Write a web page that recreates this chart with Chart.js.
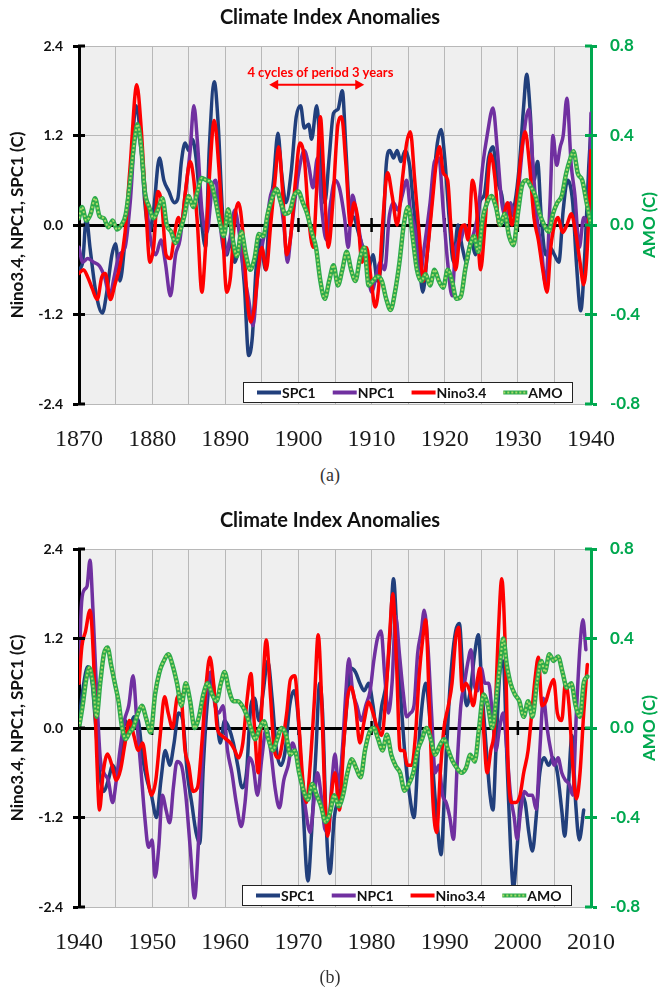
<!DOCTYPE html>
<html><head><meta charset="utf-8">
<script src="https://cdn.jsdelivr.net/npm/chart.js@4.4.1/dist/chart.umd.min.js"></script>
<style>
html,body{margin:0;padding:0;background:#fff;width:660px;height:990px;overflow:hidden;}
.wrap{position:absolute;left:0;width:660px;height:465px;}
#wa{top:0}#wb{top:503px}
.cap{position:absolute;left:0;width:660px;text-align:center;font-family:"Liberation Serif","DejaVu Serif",serif;font-size:18px;color:#333;}
</style></head><body>
<div class="wrap" id="wa"><canvas id="ca" width="660" height="465"></canvas></div>
<div class="cap" style="top:465px">(a)</div>
<div class="wrap" id="wb"><canvas id="cb" width="660" height="465"></canvas></div>
<div class="cap" style="top:967px">(b)</div>
<script>
// ---------- DATA (year, value) ----------
const seriesNames = ['SPC1','NPC1','Nino3.4','AMO'];
const leftTicks = [-2.4,-1.2,0,1.2,2.4];
const rightTicks = [-0.8,-0.4,0,0.4,0.8];

// Panel (a) 1870-1940
const spc1A = [[1870,-0.6],[1870.5,-0.5],[1871,0.1],[1871.5,-0.3],[1872.3,-0.9],[1873.2,-1.18],[1873.8,-0.9],[1874.5,-0.4],[1875,-0.25],[1875.6,-0.75],
[1876.3,-0.2],[1877,0.6],[1877.8,1.6],[1878.3,1.3],[1879,0.3],[1879.6,-0.1],[1880.2,0.2],[1881,0.9],[1881.6,0.6],[1882.3,0.45],
[1883,0.3],[1883.5,0.35],[1884,0.85],[1884.5,1.1],[1885,1.0],[1885.5,1.15],[1886,0.9],[1886.7,0.1],[1887.3,-0.3],[1887.8,1.0],
[1888.5,1.92],[1889,1.4],[1889.6,0.2],[1890.2,-0.4],[1890.7,-0.2],[1891.3,-0.5],[1892,-0.3],[1892.6,-0.8],[1893.2,-1.75],[1893.7,-1.5],
[1894.2,-0.6],[1894.8,-0.2],[1895.5,-0.6],[1896,0.1],[1896.6,0.6],[1897.2,1.23],[1897.7,0.7],[1898.3,0.3],[1899,0.7],[1899.7,1.45],
[1900.3,1.6],[1900.8,1.3],[1901.4,1.35],[1901.8,1.15],[1902.5,1.6],[1903,1.0],[1903.6,0.3],[1904.2,0.9],[1904.8,1.5],[1905.4,1.55],
[1906,1.8],[1906.5,1.0],[1907,0.2],[1907.6,0.1],[1908.2,-0.1],[1908.8,-0.3],[1909.5,-0.6],[1910.2,-0.4],[1910.8,-0.75],[1911.5,-0.3],
[1912,0.8],[1912.5,1.0],[1913,0.9],[1913.5,1.0],[1914,0.85],[1914.6,1.0],[1915.2,0.8],[1915.7,0.3],[1916.3,-0.2],[1917,-0.9],
[1917.6,-0.4],[1918.3,0.4],[1919,1.1],[1919.5,1.28],[1920,0.9],[1920.6,0.1],[1921.2,-0.5],[1921.8,0.0],[1922.4,-0.3],[1923,-0.5],
[1923.6,-0.2],[1924.2,-0.4],[1924.8,0.3],[1925.4,0.4],[1926,0.9],[1926.6,1.05],[1927.2,0.6],[1927.8,0.4],[1928.4,0.0],[1929,0.1],
[1929.6,0.3],[1930.2,0.8],[1930.8,1.6],[1931.2,2.02],[1931.7,1.5],[1932.2,0.6],[1932.7,0.85],[1933.2,0.1],[1933.8,-0.4],[1934.4,-0.3],
[1935,-0.4],[1935.6,-0.5],[1936.2,0.2],[1936.8,0.6],[1937.5,0.3],[1938,-0.5],[1938.6,-1.15],[1939.2,-0.3],[1939.7,0.8],[1940,1.3]];

const npc1A = [[1870,-0.3],[1870.5,-0.5],[1871.2,-0.45],[1872,-0.5],[1872.8,-0.55],[1873.5,-0.7],[1874.2,-0.95],[1874.8,-0.7],[1875.5,-0.4],[1876.3,-0.3],
[1877,0.3],[1877.8,1.3],[1878.5,1.0],[1879.2,0.3],[1879.8,-0.2],[1880.5,-0.4],[1881.2,-0.2],[1881.8,-0.5],[1882.5,-0.95],[1883.2,-0.4],
[1883.8,-0.2],[1884.5,0.4],[1885.2,1.0],[1885.7,1.6],[1886.2,1.1],[1886.8,0.2],[1887.5,-0.1],[1888.2,0.5],[1888.7,0.6],[1889.3,0.0],
[1890,-0.4],[1890.6,-0.2],[1891.3,0.2],[1891.9,-0.1],[1892.5,-0.6],[1893.2,-1.0],[1893.8,-1.35],[1894.4,-0.7],[1895,-0.3],[1895.6,0.0],
[1896.2,0.4],[1896.8,0.5],[1897.4,0.4],[1898,0.0],[1898.5,-0.5],[1899,-0.1],[1899.6,0.4],[1900.2,0.8],[1900.8,1.0],[1901.4,0.8],
[1902,0.5],[1902.6,0.9],[1903.2,0.2],[1903.8,-0.2],[1904.4,0.3],[1905,0.6],[1905.6,0.5],[1906.3,0.1],[1906.8,-0.3],[1907.4,0.4],
[1908,0.1],[1908.7,-0.3],[1909.3,-0.5],[1910,-0.9],[1910.6,-0.7],[1911.2,-0.5],[1911.8,-0.6],[1912.4,0.1],[1913,0.3],[1913.6,0.2],
[1914.2,0.4],[1914.8,0.6],[1915.3,0.2],[1916,-0.1],[1916.6,-0.7],[1917.2,-0.3],[1918,0.3],[1918.6,0.85],[1919.2,0.9],[1919.8,0.2],
[1920.4,-0.5],[1921,-0.95],[1921.5,-0.3],[1922.2,-0.2],[1922.8,0.0],[1923.4,-0.2],[1924,-0.1],[1924.6,0.2],[1925.2,0.8],[1925.8,1.2],
[1926.6,1.57],[1927.2,1.0],[1927.8,0.3],[1928.4,0.1],[1929,0.3],[1929.6,0.1],[1930.2,0.6],[1930.8,1.2],[1931.5,1.55],[1932,0.9],
[1932.6,0.1],[1933.2,-0.3],[1933.8,-0.8],[1934.4,0.3],[1934.8,1.2],[1935.3,0.8],[1935.8,1.05],[1936.2,1.2],[1936.7,1.7],[1937.3,0.8],
[1937.8,0.4],[1938.4,-0.3],[1939,0.1],[1939.6,0.0],[1940,1.5]];

const nino34A = [[1870,-0.65],[1870.6,-0.6],[1871.2,-0.7],[1871.8,-0.85],[1872.5,-1.0],[1873.1,-0.7],[1873.6,-0.65],[1874.3,-1.0],[1874.9,-0.8],[1875.6,-0.55],
[1876.3,-0.1],[1877,0.8],[1877.9,1.88],[1878.5,1.3],[1879.1,0.3],[1879.7,-0.5],[1880.2,-0.3],[1880.8,0.45],[1881.3,0.3],[1881.9,-0.4],
[1882.5,-0.45],[1883.1,-0.1],[1883.6,0.1],[1884,0.0],[1884.5,0.4],[1885.2,0.85],[1885.7,0.6],[1886.2,0.0],[1886.8,-0.9],[1887.3,-0.3],
[1887.8,0.6],[1888.5,1.4],[1889.1,0.8],[1889.6,0.0],[1890.2,-0.9],[1890.7,-0.7],[1891.3,0.1],[1891.8,0.3],[1892.4,-0.1],[1893,-1.0],
[1893.5,-1.3],[1894,-1.1],[1894.5,-0.6],[1895,-0.3],[1895.6,-0.6],[1896.2,0.0],[1896.8,0.6],[1897.3,1.05],[1897.8,0.5],[1898.4,-0.4],
[1899,-0.1],[1899.6,0.6],[1900.2,1.1],[1900.8,0.9],[1901.4,0.1],[1902,-0.3],[1902.5,0.5],[1903,1.45],[1903.5,0.6],[1904.1,-0.3],
[1904.7,0.3],[1905.4,1.35],[1905.9,1.45],[1906.5,0.8],[1907.1,0.0],[1907.6,0.3],[1908.1,0.1],[1908.7,-0.5],[1909.3,-0.3],[1909.9,-0.7],
[1910.5,-1.1],[1911,-0.8],[1911.5,0.0],[1912.2,0.7],[1912.8,0.4],[1913.5,0.0],[1914.2,0.6],[1914.8,1.1],[1915.3,1.25],[1915.9,0.6],
[1916.5,-0.1],[1917.1,-0.75],[1917.7,-0.3],[1918.3,0.3],[1918.8,0.8],[1919.3,1.05],[1919.8,0.7],[1920.4,0.6],[1920.9,-0.1],[1921.5,-0.6],
[1922.1,-0.1],[1922.7,0.0],[1923.2,-0.2],[1923.8,0.6],[1924.3,0.3],[1924.9,-0.6],[1925.5,0.0],[1926.3,0.95],[1926.9,0.6],[1927.4,0.0],
[1928,0.1],[1928.6,0.3],[1929.2,0.0],[1929.8,0.3],[1930.4,0.9],[1931,1.25],[1931.6,0.8],[1932.2,0.1],[1932.8,-0.2],[1933.4,-0.6],
[1934,-0.9],[1934.5,-0.3],[1935,0.0],[1935.5,0.1],[1936.1,-0.1],[1936.7,0.0],[1937.3,0.15],[1937.9,-0.1],[1938.5,-0.5],[1939,-0.8],
[1939.5,-0.3],[1940,1.0]];

const amoA = [[1870,0.03],[1870.4,0.08],[1871,0.02],[1871.6,0.05],[1872.2,0.12],[1872.8,0.04],[1873.4,0.03],[1874,-0.01],[1874.6,0.02],[1875.2,-0.02],
[1875.8,0.0],[1876.4,0.05],[1877,0.2],[1877.6,0.38],[1878,0.45],[1878.5,0.35],[1879,0.15],[1879.6,0.08],[1880.2,0.03],[1880.8,0.07],
[1881.4,0.12],[1882,0.0],[1882.6,-0.03],[1883.2,-0.08],[1883.8,-0.03],[1884.4,0.04],[1885,0.13],[1885.6,0.08],[1886.2,0.15],[1886.8,0.21],
[1887.4,0.2],[1888,0.19],[1888.6,0.12],[1889.2,0.02],[1889.8,-0.05],[1890.4,0.07],[1891,-0.06],[1891.6,-0.14],[1892.2,-0.03],[1892.8,-0.13],
[1893.4,-0.2],[1894,-0.15],[1894.6,-0.04],[1895.2,-0.05],[1895.8,0.05],[1896.4,0.12],[1897,0.16],[1897.6,0.1],[1898.2,0.05],[1898.8,0.06],
[1899.4,0.13],[1900,0.15],[1900.6,0.1],[1901.2,0.05],[1901.8,-0.03],[1902.4,-0.1],[1903,-0.25],[1903.6,-0.33],[1904.2,-0.25],[1904.8,-0.18],
[1905.4,-0.27],[1906,-0.2],[1906.6,-0.12],[1907.2,-0.2],[1907.8,-0.25],[1908.4,-0.15],[1909,-0.1],[1909.6,-0.27],[1910.2,-0.25],[1910.8,-0.23],
[1911.4,-0.25],[1912,-0.33],[1912.6,-0.38],[1913.2,-0.3],[1913.8,-0.17],[1914.4,0.0],[1915,0.08],[1915.6,-0.05],[1916.2,-0.2],[1916.8,-0.25],
[1917.4,-0.22],[1918,-0.27],[1918.6,-0.2],[1919.2,-0.25],[1919.8,-0.28],[1920.4,-0.2],[1921,-0.25],[1921.6,-0.33],[1922.2,-0.32],[1922.8,-0.2],
[1923.4,-0.1],[1924,-0.05],[1924.6,-0.12],[1925.2,0.03],[1925.8,0.1],[1926.4,0.13],[1927,0.08],[1927.6,0.0],[1928.2,0.05],[1928.8,-0.05],
[1929.4,-0.09],[1930,0.05],[1930.6,0.18],[1931.2,0.2],[1931.8,0.17],[1932.4,0.13],[1933,0.05],[1933.6,0.0],[1934.2,-0.03],[1934.8,0.05],
[1935.4,0.1],[1936,0.13],[1936.6,0.23],[1937.2,0.3],[1937.6,0.33],[1938.2,0.23],[1938.8,0.2],[1939.4,0.1],[1940,0.0]];

// Panel (b) 1940-2010
const spc1B = [[1940,0.1],[1940.5,0.5],[1941.2,0.82],[1941.8,0.6],[1942.3,0.0],[1942.8,-0.6],[1943.4,-0.85],[1944,-0.7],[1944.6,-0.5],[1945.2,-0.6],
[1945.8,-0.3],[1946.3,0.1],[1946.9,0.0],[1947.5,0.15],[1948.1,0.1],[1948.7,-0.4],[1949.3,-0.7],[1949.9,-0.9],[1950.6,-1.2],[1951.2,-0.7],
[1951.8,-0.3],[1952.4,-0.5],[1953,-0.2],[1953.6,0.2],[1954.2,0.1],[1954.8,-0.6],[1955.4,-1.0],[1956,-1.4],[1956.5,-1.55],[1957,-0.5],
[1957.6,0.4],[1958.1,0.7],[1958.7,0.3],[1959.3,-0.2],[1959.9,0.1],[1960.5,0.0],[1961.1,-0.2],[1961.7,-0.5],[1962.3,-0.8],[1962.9,-0.6],
[1963.5,0.3],[1964,0.4],[1964.6,0.1],[1965.2,0.5],[1965.8,0.9],[1966.4,0.4],[1967,-0.3],[1967.6,-0.5],[1968.2,-0.3],[1968.8,0.3],
[1969.4,0.5],[1970,0.1],[1970.6,-1.0],[1971.3,-2.05],[1971.8,-1.4],[1972.4,-0.3],[1972.9,0.6],[1973.3,0.2],[1973.8,-1.3],[1974.3,-1.95],
[1974.9,-1.2],[1975.5,-0.9],[1976.1,-0.3],[1976.7,0.4],[1977.2,0.8],[1977.8,0.75],[1978.4,0.6],[1979,0.5],[1979.6,0.6],[1980.2,0.3],
[1980.8,-0.1],[1981.4,0.3],[1982,0.6],[1982.5,1.2],[1983,2.0],[1983.5,1.2],[1984,0.4],[1984.6,-0.4],[1985.2,-0.9],[1985.8,-1.2],
[1986.4,-0.3],[1986.9,0.3],[1987.4,0.6],[1987.9,0.2],[1988.5,-0.7],[1989,-1.3],[1989.5,-1.7],[1990,-0.8],[1990.5,0.2],[1991,0.9],
[1991.5,1.3],[1992,1.4],[1992.5,0.7],[1993,0.3],[1993.5,0.5],[1994.1,1.0],[1994.6,1.25],[1995.1,0.5],[1995.7,-0.3],[1996.2,-0.9],
[1996.6,-1.1],[1997,-0.3],[1997.5,0.7],[1998,0.9],[1998.5,-0.4],[1999,-1.6],[1999.4,-2.15],[1999.9,-1.6],[2000.5,-0.9],[2001,-1.0],
[2001.5,-1.4],[2002,-1.65],[2002.5,-1.2],[2003,-0.6],[2003.6,-0.4],[2004.2,-0.5],[2004.8,-0.4],[2005.4,-0.6],[2006,-1.1],[2006.4,-1.45],
[2006.9,-0.8],[2007.4,-0.1],[2007.9,-1.0],[2008.4,-1.5],[2009,-1.1]];

const npc1B = [[1940,0.6],[1940.3,1.6],[1940.7,1.85],[1941.1,1.9],[1941.5,2.25],[1941.9,1.6],[1942.4,0.5],[1942.9,-0.4],[1943.4,-0.6],[1944,-0.7],
[1944.6,-1.0],[1945.1,-0.7],[1945.6,-0.3],[1946.2,0.1],[1946.8,0.3],[1947.4,0.7],[1947.9,0.1],[1948.5,-0.6],[1949,-1.2],[1949.5,-1.6],
[1950,-1.5],[1950.4,-2.0],[1950.9,-1.6],[1951.4,-0.9],[1951.9,-1.1],[1952.4,-1.27],[1952.9,-0.8],[1953.4,-0.45],[1954,-0.5],[1954.6,-0.9],
[1955.2,-1.6],[1955.8,-2.28],[1956.3,-1.6],[1956.9,-0.3],[1957.5,0.5],[1958,0.75],[1958.6,0.3],[1959.1,0.2],[1959.7,0.3],[1960.3,-0.3],
[1960.9,-0.6],[1961.5,-1.0],[1962.2,-1.32],[1962.7,-1.0],[1963.3,-0.4],[1963.8,-0.5],[1964.4,-0.9],[1965,-0.4],[1965.6,0.0],[1966.2,-0.3],
[1966.8,-0.8],[1967.4,-1.07],[1968,-0.7],[1968.6,-0.5],[1969.2,-0.2],[1969.8,-0.4],[1970.4,-0.6],[1971,-1.1],[1971.6,-1.4],[1972.1,-1.0],
[1972.6,-0.6],[1973.1,-0.9],[1973.6,-1.35],[1974.1,-1.4],[1974.6,-0.7],[1975,-0.35],[1975.5,-0.8],[1976,-0.3],[1976.5,0.5],[1976.9,0.93],
[1977.4,0.5],[1978,0.3],[1978.6,0.1],[1979.2,0.3],[1979.8,0.5],[1980.3,0.9],[1980.8,1.2],[1981.3,1.3],[1981.8,0.7],[1982.3,0.2],
[1982.8,0.6],[1983.3,1.5],[1983.8,1.0],[1984.3,0.5],[1984.8,0.15],[1985.3,0.2],[1985.8,0.3],[1986.3,1.0],[1986.8,1.3],[1987.2,1.58],
[1987.7,1.1],[1988.2,0.2],[1988.7,-0.6],[1989.2,-0.5],[1989.7,-0.9],[1990.2,-1.0],[1990.7,-1.2],[1991.2,-1.49],[1991.7,-0.5],[1992.2,0.3],
[1992.7,0.6],[1993.2,0.9],[1993.6,1.05],[1994,0.6],[1994.5,0.5],[1995,0.8],[1995.5,0.6],[1996,0.6],[1996.5,0.2],[1997,-0.3],
[1997.5,0.0],[1998,0.2],[1998.5,-0.3],[1999,-0.9],[1999.5,-1.2],[1999.9,-1.49],[2000.4,-1.1],[2000.9,-0.85],[2001.4,-0.9],[2002,-0.9],
[2002.5,-1.09],[2003,-0.3],[2003.5,0.4],[2004,0.0],[2004.5,-0.3],[2005,-0.5],[2005.5,-0.4],[2006,-0.6],[2006.5,-0.7],[2007,-0.75],
[2007.5,-0.9],[2008,0.2],[2008.5,1.1],[2008.9,1.45],[2009.3,1.05]];

const nino34B = [[1940,0.6],[1940.4,1.1],[1940.9,1.3],[1941.5,1.58],[1942,0.9],[1942.4,-0.3],[1942.8,-1.1],[1943.3,-0.6],[1943.9,-0.35],[1944.5,-0.5],
[1945.1,-0.7],[1945.7,-0.55],[1946.3,-0.2],[1946.9,0.1],[1947.5,-0.1],[1948.1,-0.3],[1948.7,-0.2],[1949.3,-0.6],[1949.9,-0.9],[1950.5,-0.7],
[1951.1,-0.1],[1951.7,0.42],[1952.2,0.2],[1952.8,0.0],[1953.4,0.4],[1953.9,0.45],[1954.5,-0.3],[1955,-0.5],[1955.6,-0.85],[1956.2,-0.8],
[1956.8,-0.2],[1957.4,0.6],[1957.9,0.95],[1958.4,0.6],[1958.9,0.0],[1959.5,-0.1],[1960.1,-0.15],[1960.7,-0.2],[1961.3,-0.3],[1961.8,-0.4],
[1962.4,-0.2],[1963,0.4],[1963.5,0.73],[1964,0.0],[1964.5,-0.6],[1965,0.3],[1965.6,1.18],[1966.2,0.4],[1966.7,-0.3],[1967.3,-0.4],
[1967.8,-0.2],[1968.4,0.2],[1968.9,0.65],[1969.5,0.7],[1970.1,0.0],[1970.6,-0.7],[1971.1,-1.0],[1971.6,-0.5],[1972.2,0.4],[1972.7,1.25],
[1973.2,0.3],[1973.6,-0.9],[1974,-1.45],[1974.5,-0.9],[1975,-0.6],[1975.6,-1.1],[1976.2,-0.2],[1976.7,0.4],[1977.2,0.55],[1977.8,0.3],
[1978.4,-0.2],[1979,0.1],[1979.6,0.35],[1980.2,0.2],[1980.8,0.0],[1981.4,-0.1],[1982,0.5],[1982.5,1.3],[1982.9,1.8],[1983.4,0.9],
[1983.9,-0.3],[1984.4,-0.3],[1984.9,-0.5],[1985.5,-0.5],[1986,-0.1],[1986.5,0.7],[1987,1.2],[1987.4,1.45],[1987.9,0.3],[1988.4,-1.0],
[1988.9,-1.4],[1989.4,-0.6],[1989.9,0.0],[1990.5,0.3],[1991,0.6],[1991.5,1.2],[1991.9,1.35],[1992.4,0.5],[1992.9,0.6],[1993.4,0.5],
[1993.9,0.3],[1994.4,0.6],[1994.8,0.8],[1995.3,0.0],[1995.8,-0.6],[1996.3,-0.3],[1996.8,0.0],[1997.3,1.2],[1997.8,2.0],[1998.3,1.0],
[1998.7,-0.6],[1999.2,-1.0],[1999.7,-1.0],[2000.3,-0.9],[2000.8,-0.6],[2001.4,-0.3],[2001.9,0.2],[2002.4,0.7],[2002.8,0.95],[2003.3,0.3],
[2003.8,0.35],[2004.4,0.55],[2004.9,0.65],[2005.4,0.2],[2006,0.1],[2006.5,0.6],[2007,0.3],[2007.5,-0.5],[2008,-0.95],[2008.5,-0.6],
[2009,0.2],[2009.5,0.85]];

const amoB = [[1940,0.0],[1940.5,0.1],[1941,0.22],[1941.4,0.27],[1941.9,0.2],[1942.4,0.05],[1942.9,0.2],[1943.4,0.33],[1943.9,0.36],[1944.4,0.28],
[1944.9,0.2],[1945.4,0.12],[1945.9,0.0],[1946.4,-0.05],[1946.9,-0.02],[1947.4,0.0],[1948,0.06],[1948.6,0.1],[1949.2,0.04],[1949.8,-0.02],
[1950.4,0.15],[1951,0.25],[1951.6,0.3],[1952.2,0.33],[1952.8,0.28],[1953.4,0.2],[1954,0.1],[1954.6,0.2],[1955.2,0.12],[1955.8,0.0],
[1956.4,0.05],[1957,0.15],[1957.6,0.2],[1958.2,0.15],[1958.8,0.12],[1959.4,0.2],[1959.9,0.25],[1960.5,0.17],[1961.1,0.12],[1961.7,0.12],
[1962.3,0.1],[1962.9,0.06],[1963.5,0.0],[1964.1,-0.05],[1964.7,0.0],[1965.3,0.03],[1965.9,-0.05],[1966.5,-0.1],[1967.1,-0.05],[1967.7,0.0],
[1968.3,-0.03],[1968.9,-0.12],[1969.5,-0.1],[1970.1,-0.2],[1970.7,-0.28],[1971.3,-0.32],[1971.9,-0.25],[1972.5,-0.3],[1973.1,-0.35],[1973.7,-0.42],
[1974.3,-0.38],[1974.9,-0.3],[1975.5,-0.35],[1976.1,-0.3],[1976.7,-0.2],[1977.3,-0.14],[1977.9,-0.18],[1978.5,-0.22],[1979.1,-0.1],[1979.7,-0.02],
[1980.3,0.0],[1980.9,-0.05],[1981.5,-0.1],[1982.1,-0.03],[1982.7,-0.12],[1983.3,-0.17],[1983.9,-0.2],[1984.5,-0.28],[1985.1,-0.25],[1985.7,-0.2],
[1986.3,-0.1],[1986.9,-0.05],[1987.5,0.0],[1988.1,-0.05],[1988.7,-0.12],[1989.3,-0.08],[1989.9,-0.05],[1990.5,-0.1],[1991.1,-0.15],[1991.7,-0.18],
[1992.3,-0.2],[1992.9,-0.18],[1993.5,-0.12],[1994.1,-0.15],[1994.7,0.0],[1995.3,0.15],[1995.9,0.1],[1996.5,0.0],[1997.1,0.15],[1997.6,0.3],
[1998,0.4],[1998.5,0.28],[1999,0.2],[1999.6,0.15],[2000.2,0.12],[2000.8,0.05],[2001.4,0.12],[2002,0.05],[2002.6,0.2],[2003.2,0.3],
[2003.7,0.25],[2004.3,0.33],[2004.9,0.3],[2005.5,0.32],[2006.1,0.25],[2006.7,0.18],[2007.3,0.2],[2007.9,0.1],[2008.5,0.05],[2009,0.2],
[2009.5,0.23]];

// ---------- STYLE ----------
const C_SPC='#213F7C', C_NPC='#7030A0', C_NINO='#FF0000', C_AMO='#2DAA4A', C_AMODOT='#A9DA6A', GREEN='#00A84F';
const FONT='Lato, "Open Sans", sans-serif';

function pts(arr){ return arr.map(p=>({x:p[0], y:p[1]})); }
function fmt(v){ return Math.abs(v)<1e-9 ? '0.0' : v.toFixed(1); }

const decor = {
  id:'decor',
  beforeDraw(chart){
    const {ctx, chartArea:a} = chart;
    ctx.save(); ctx.fillStyle='#efefef'; ctx.fillRect(a.left,a.top,a.right-a.left,a.bottom-a.top); ctx.restore();
  },
  beforeDatasetsDraw(chart){
    const {ctx, scales:{x,y}} = chart;
    const y0 = y.getPixelForValue(0);
    ctx.save(); ctx.strokeStyle='#000'; ctx.lineWidth=2.5;
    for(let v=Math.ceil(x.min/10)*10; v<=x.max; v+=10){
      if(v<=x.min||v>=x.max) continue;
      const px=x.getPixelForValue(v);
      ctx.beginPath(); ctx.moveTo(px,y0-7); ctx.lineTo(px,y0+7); ctx.stroke();
    }
    ctx.restore();
  },
  afterDraw(chart, args, opts){
    const {ctx, chartArea:a, scales:{x,y,y1}} = chart;
    ctx.save();
    ctx.lineWidth=3; ctx.strokeStyle='#000';
    y.ticks.forEach(t=>{const py=y.getPixelForValue(t.value); ctx.beginPath(); ctx.moveTo(a.left-1,py); ctx.lineTo(a.left+6,py); ctx.stroke();});
    ctx.strokeStyle=GREEN;
    y1.ticks.forEach(t=>{const py=y1.getPixelForValue(t.value); ctx.beginPath(); ctx.moveTo(a.right-6,py); ctx.lineTo(a.right+1,py); ctx.stroke();});
    ctx.restore();
    // right axis title (reads bottom to top)
    ctx.save();
    ctx.translate(650,(a.top+a.bottom)/2); ctx.rotate(-Math.PI/2);
    ctx.fillStyle=GREEN; ctx.font='bold 17px '+FONT; ctx.textAlign='center'; ctx.textBaseline='middle';
    ctx.fillText('AMO (C)',0,0);
    ctx.restore();
    // annotation
    if(opts.annot){
      const an=opts.annot;
      const x1=x.getPixelForValue(an.from), x2=x.getPixelForValue(an.to), ya=y.getPixelForValue(an.y);
      const xt=x.getPixelForValue(an.textX), yt=y.getPixelForValue(an.textY);
      ctx.save();
      ctx.fillStyle=C_NINO; ctx.strokeStyle=C_NINO; ctx.font='bold 13px '+FONT; ctx.textAlign='center'; ctx.textBaseline='middle';
      ctx.fillText(an.text,xt,yt);
      ctx.lineWidth=2;
      ctx.beginPath(); ctx.moveTo(x1+6,ya); ctx.lineTo(x2-6,ya); ctx.stroke();
      ctx.beginPath(); ctx.moveTo(x1,ya); ctx.lineTo(x1+9,ya-5); ctx.lineTo(x1+9,ya+5); ctx.closePath(); ctx.fill();
      ctx.beginPath(); ctx.moveTo(x2,ya); ctx.lineTo(x2-9,ya-5); ctx.lineTo(x2-9,ya+5); ctx.closePath(); ctx.fill();
      ctx.restore();
    }
    // legend box
    const lg=opts.legend;
    const bx0=lg.left, bx1=lg.right, by1=a.bottom-1, by0=by1-21, cy=(by0+by1)/2;
    ctx.save();
    ctx.fillStyle='#fff'; ctx.fillRect(bx0,by0,bx1-bx0,by1-by0);
    ctx.strokeStyle='#222'; ctx.lineWidth=1; ctx.strokeRect(bx0+0.5,by0+0.5,bx1-bx0-1,by1-by0-1);
    ctx.font='bold 14px '+FONT; ctx.textBaseline='middle'; ctx.textAlign='left';
    let cx=bx0+14;
    chart.data.datasets.filter(d=>!d.noLegend).forEach(d=>{
      ctx.lineWidth=4; ctx.strokeStyle=d.borderColor; ctx.setLineDash([]);
      ctx.beginPath(); ctx.moveTo(cx,cy); ctx.lineTo(cx+24,cy); ctx.stroke();
      if(d.label==='AMO'){ ctx.lineWidth=2; ctx.strokeStyle=C_AMODOT; ctx.setLineDash([2,2]); ctx.beginPath(); ctx.moveTo(cx,cy); ctx.lineTo(cx+24,cy); ctx.stroke(); ctx.setLineDash([]); }
      ctx.fillStyle='#111'; ctx.fillText(d.label,cx+25,cy+0.5);
      cx += 25 + ctx.measureText(d.label).width + 17;
    });
    ctx.restore();
  }
};

function makeChart(id, xmin, xmax, spc, npc, nino, amo, extra){
  const line = (label, data, color, w, order, axis)=>({label, data:pts(data), borderColor:color, backgroundColor:color, borderWidth:w, order, yAxisID:axis,
      pointRadius:0, cubicInterpolationMode:'monotone', fill:false, borderJoinStyle:'round', borderCapStyle:'round'});
  const dot = Object.assign(line('AMO', amo, C_AMODOT, 2, 0, 'y1'), {borderDash:[2,2], borderCapStyle:'butt', noLegend:true});
  return new Chart(document.getElementById(id), {
    type:'line',
    data:{datasets:[
      line(seriesNames[0], spc, C_SPC, 3.5, 4, 'y'),
      line(seriesNames[1], npc, C_NPC, 3.5, 3, 'y'),
      line(seriesNames[2], nino, C_NINO, 3.5, 2, 'y'),
      line(seriesNames[3], amo, C_AMO, 4.5, 1, 'y1'),
      dot
    ]},
    options:{
      responsive:false, animation:false, events:[],
      layout:{padding:0},
      plugins:{
        legend:{display:false}, tooltip:{enabled:false},
        title:{display:true, text:'Climate Index Anomalies', color:'#111', font:{family:FONT, size:20, weight:'bold'}, padding:{top:6,bottom:16}},
        decor: extra
      },
      scales:{
        x:{type:'linear', min:xmin, max:xmax,
           afterBuildTicks(s){ s.ticks=[]; for(let v=xmin; v<=xmax; v+=5) s.ticks.push({value:v}); },
           afterFit(s){ s.height=61; },
           ticks:{autoSkip:false, maxRotation:0, padding:21, color:'#1a1a1a', font:{family:'"Liberation Serif","DejaVu Serif",serif', size:24},
                  callback:(v)=> (v%10===0 ? String(v) : '')},
           grid:{color:'#b8b8b8', lineWidth:1, drawTicks:false},
           border:{color:'#b8b8b8', width:1}},
        y:{type:'linear', position:'left', min:-2.4, max:2.4,
           afterBuildTicks(s){ s.ticks=leftTicks.map(v=>({value:v})); },
           afterFit(s){ s.width=79; },
           ticks:{padding:10, color:'#111', font:{family:FONT, size:14, weight:'bold'}, callback:fmt},
           grid:{color:(c)=>Math.abs(c.tick.value)<1e-9?'#000':'#b8b8b8', lineWidth:(c)=>Math.abs(c.tick.value)<1e-9?3:1,
                 tickLength:6, tickColor:'#000', tickWidth:3},
           border:{color:'#000', width:3},
           title:{display:true, text:'Nino3.4, NPC1, SPC1 (C)', color:'#111', font:{family:FONT, size:17, weight:'bold'}, padding:{top:7,bottom:0}}},
        y1:{type:'linear', position:'right', min:-0.8, max:0.8,
           afterBuildTicks(s){ s.ticks=rightTicks.map(v=>({value:v})); },
           afterFit(s){ s.width=69; },
           ticks:{padding:13, color:GREEN, font:{family:FONT, size:17, weight:'bold'}, callback:fmt},
           grid:{drawOnChartArea:false, tickLength:6, tickColor:GREEN, tickWidth:3},
           border:{color:GREEN, width:3}}
      }
    },
    plugins:[decor]
  });
}

makeChart('ca', 1870, 1940, spc1A, npc1A, nino34A, amoA,
  {legend:{left:243,right:573}, annot:{text:'4 cycles of period 3 years', textX:1903, textY:2.04, from:1896, to:1909, y:1.88}});
makeChart('cb', 1940, 2010, spc1B, npc1B, nino34B, amoB,
  {legend:{left:242,right:572}});
</script>
</body></html>
